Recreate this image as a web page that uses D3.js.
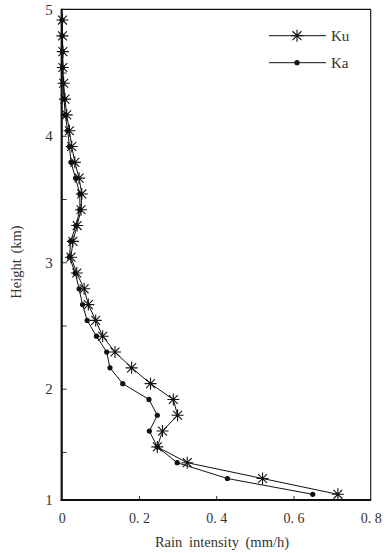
<!DOCTYPE html>
<html>
<head>
<meta charset="utf-8">
<script src="https://cdn.jsdelivr.net/npm/d3@7"></script>
<style>
  html, body { margin: 0; padding: 0; background: #fff; }
  svg { display: block; }
  text { font-family: "Liberation Serif", "DejaVu Serif", serif; fill: #333; }
</style>
</head>
<body>
<svg id="chart" width="388" height="553"></svg>
<script>
// ---- data ----
const heights = [1.165, 1.29, 1.415, 1.54, 1.665, 1.79, 1.915, 2.04, 2.165, 2.29,
  2.415, 2.54, 2.665, 2.79, 2.915, 3.04, 3.165, 3.29, 3.415, 3.54,
  3.665, 3.79, 3.915, 4.04, 4.165, 4.29, 4.415, 4.54, 4.665, 4.79, 4.915];
const kuValues = [0.715, 0.520, 0.325, 0.2475, 0.261, 0.300, 0.289, 0.230, 0.181, 0.138,
  0.106, 0.088, 0.069, 0.058, 0.039, 0.024, 0.029, 0.040, 0.050, 0.052,
  0.045, 0.034, 0.026, 0.020, 0.013, 0.0085, 0.005, 0.003, 0.003, 0.002, 0.002];
const kaValues = [0.650, 0.429, 0.299, 0.2475, 0.227, 0.2475, 0.226, 0.158, 0.125, 0.1165,
  0.090, 0.066, 0.054, 0.045, 0.035, 0.020, 0.023, 0.037, 0.047, 0.047,
  0.036, 0.024, 0.020, 0.0155, 0.009, 0.006, 0.003, 0.002, 0.002, 0.001, 0.001];
const seriesNames = ["Ku", "Ka"];
const xTickValues = [0, 0.2, 0.4, 0.6, 0.8];
const xTickLabels = ["0", "0. 2", "0. 4", "0. 6", "0. 8"];
const yTickValues = [1.12, 2, 3, 4, 5];
const yTickLabels = ["1", "2", "3", "4", "5"];
const yMinorTicks = [1.5, 2.5, 3.5, 4.5];
const xTitle = "Rain intensity (mm/h)";
const yTitle = "Height (km)";

(function () {
// ---- layout ----
const mLeft = 61.7, mRight = 370.7, mTop = 9.3, mBottom = 500;
const svg = d3.select("#chart");
const x = d3.scaleLinear().domain([0, 0.8]).range([mLeft, mRight]);
const y = d3.scaleLinear().domain([1.12, 5]).range([mBottom, mTop]);

// frame (thin top/right)
svg.append("line").attr("x1", mLeft).attr("x2", mRight).attr("y1", mTop).attr("y2", mTop)
  .attr("stroke", "#111").attr("stroke-width", 1.3);
svg.append("line").attr("x1", mRight).attr("x2", mRight).attr("y1", mTop).attr("y2", mBottom)
  .attr("stroke", "#111").attr("stroke-width", 1.1);

// x axis
const xAxis = d3.axisBottom(x).tickValues(xTickValues)
  .tickFormat((d, i) => xTickLabels[i]).tickSizeInner(-4).tickSizeOuter(0).tickPadding(13);
const gx = svg.append("g").attr("transform", `translate(0,${mBottom})`).call(xAxis);
gx.select(".domain").remove();
gx.selectAll(".tick line").attr("stroke", "#333").attr("stroke-width", 1)
  .filter(d => d === 0 || d === 0.8).remove();
gx.selectAll(".tick text").attr("font-size", 14).attr("font-family", null).attr("fill", "#333");

// y axis
const yAxis = d3.axisLeft(y).tickValues(yTickValues)
  .tickFormat((d, i) => yTickLabels[i]).tickSizeInner(-5).tickSizeOuter(0).tickPadding(9);
const gy = svg.append("g").attr("transform", `translate(${mLeft},0)`).call(yAxis);
gy.select(".domain").remove();
gy.selectAll(".tick line").attr("stroke", "#333").attr("stroke-width", 1)
  .filter(d => d === 1.12 || d === 5).remove();
gy.selectAll(".tick text").attr("font-size", 15).attr("font-family", null).attr("fill", "#333");
const gyMinor = svg.append("g").attr("transform", `translate(${mLeft},0)`)
  .call(d3.axisLeft(y).tickValues(yMinorTicks).tickFormat("").tickSizeInner(-5).tickSizeOuter(0));
gyMinor.select(".domain").remove();
gyMinor.selectAll(".tick line").attr("stroke", "#333");

// thick left/bottom axes
svg.append("line").attr("x1", mLeft).attr("x2", mLeft).attr("y1", mTop - 0.6).attr("y2", mBottom + 1)
  .attr("stroke", "#111").attr("stroke-width", 2.2);
svg.append("line").attr("x1", mLeft - 1).attr("x2", mRight + 0.5).attr("y1", mBottom).attr("y2", mBottom)
  .attr("stroke", "#111").attr("stroke-width", 2);

// titles
svg.append("text").attr("x", 222).attr("y", 547).attr("text-anchor", "middle")
  .attr("font-size", 14.5).attr("word-spacing", 3).text(xTitle);
svg.append("text").attr("transform", "translate(21,262) rotate(-90)")
  .attr("text-anchor", "middle").attr("font-size", 14.5).attr("word-spacing", 2).text(yTitle);

// series
const kuData = heights.map((h, i) => ({ h, v: kuValues[i] }));
const kaData = heights.map((h, i) => ({ h, v: kaValues[i] }));
const line = d3.line().x(d => x(d.v)).y(d => y(d.h));

function starPath(r) {
  const d = r * 0.74;
  return `M${-r},0L${r},0M0,${-r}L0,${r}M${-d},${-d}L${d},${d}M${-d},${d}L${d},${-d}`;
}

svg.append("path").datum(kaData).attr("d", line)
  .attr("fill", "none").attr("stroke", "#111").attr("stroke-width", 1);
svg.append("path").datum(kuData).attr("d", line)
  .attr("fill", "none").attr("stroke", "#111").attr("stroke-width", 1);

svg.append("g").selectAll("circle").data(kaData).join("circle")
  .attr("cx", d => x(d.v)).attr("cy", d => y(d.h)).attr("r", 2.6).attr("fill", "#111");
svg.append("g").selectAll("path").data(kuData).join("path")
  .attr("transform", d => `translate(${x(d.v)},${y(d.h)})`)
  .attr("d", starPath(6)).attr("stroke", "#111").attr("stroke-width", 1.1).attr("fill", "none");

// legend
const lg = svg.append("g");
[0, 1].forEach(i => {
  const ly = 35.7 + i * 27;
  lg.append("line").attr("x1", 269).attr("x2", 326).attr("y1", ly).attr("y2", ly)
    .attr("stroke", "#111").attr("stroke-width", 1);
  if (i === 0) {
    lg.append("path").attr("transform", `translate(297,${ly})`).attr("d", starPath(6))
      .attr("stroke", "#111").attr("stroke-width", 1.1);
  } else {
    lg.append("circle").attr("cx", 297).attr("cy", ly).attr("r", 2.6).attr("fill", "#111");
  }
  lg.append("text").attr("x", 331).attr("y", ly + 5).attr("font-size", 15).text(seriesNames[i]);
});
})();
</script>
</body>
</html>
